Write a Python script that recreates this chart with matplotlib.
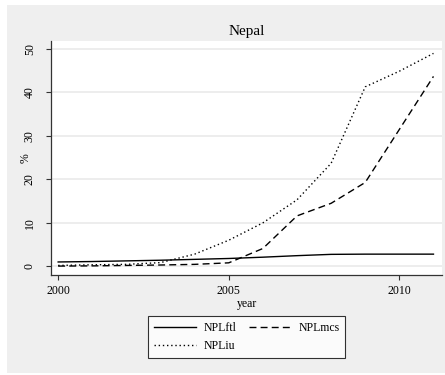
import matplotlib
matplotlib.use("Agg")
import matplotlib.pyplot as plt
from matplotlib.patches import Rectangle

# Values
years = [2000, 2001, 2002, 2003, 2004, 2005, 2006, 2007, 2008, 2009, 2010, 2011]
npl_ftl = [1.0, 1.1, 1.25, 1.4, 1.6, 1.8, 2.1, 2.45, 2.75, 2.8, 2.8, 2.8]
npl_mcs = [0.05, 0.1, 0.2, 0.3, 0.45, 0.8, 4.1, 11.6, 14.5, 19.3, 31.5, 43.7]
npl_iu = [0.2, 0.35, 0.45, 0.85, 2.8, 6.0, 10.0, 15.3, 23.7, 41.3, 44.9, 49.0]
y_ticks = [0, 10, 20, 30, 40, 50]
x_ticks = [2000, 2005, 2010]

plt.rcParams['font.family'] = ['Liberation Serif', 'DejaVu Serif']

W, H = 445, 375
fig = plt.figure(figsize=(W / 100, H / 100), dpi=100, facecolor="white")

# Stata-like gray graph region
fig.patches.append(Rectangle((7 / W, 1 - 373 / H), 1 - 7 / W, (373 - 5) / H,
                             transform=fig.transFigure, facecolor="#efefef",
                             edgecolor="none", zorder=-1))

ax = fig.add_axes([51 / W, 1 - 275 / H, (442 - 51) / W, (275 - 41) / H])
ax.set_facecolor("white")

l_ftl, = ax.plot(years, npl_ftl, color="black", lw=1.0, ls="-", label="NPLftl")
l_mcs, = ax.plot(years, npl_mcs, color="black", lw=1.0, ls=(0, (5, 3)), label="NPLmcs")
l_iu, = ax.plot(years, npl_iu, color="black", lw=1.0, ls=(0, (1, 2)), label="NPLiu")

ax.set_xlim(1999.79, 2011.25)
ax.set_ylim(-2.0, 51.85)
ax.set_xticks(x_ticks)
ax.set_yticks(y_ticks)
ax.set_yticklabels([str(v) for v in y_ticks], rotation=90, va="center")
ax.tick_params(axis="both", labelsize=8.5, length=3.4, width=0.8, color="#333333")
ax.tick_params(axis="y", pad=7.5)
ax.tick_params(axis="x", pad=4)

for v in y_ticks:
    ax.axhline(v, color="#eaeaea", lw=1.2, zorder=0)

for s in ["top", "right"]:
    ax.spines[s].set_visible(False)
for s in ["left", "bottom"]:
    ax.spines[s].set_color("#333333")
    ax.spines[s].set_linewidth(0.9)

ax.set_title("Nepal", fontsize=11, pad=4)
ax.set_xlabel("year", fontsize=8.5)
ax.set_ylabel("%", fontsize=8.5)
ax.xaxis.set_label_coords(0.5, -0.098)
ax.yaxis.set_label_coords(-0.049, 0.5)

# column-wise fill: ftl / iu in first column, mcs in second
leg = fig.legend([l_ftl, l_iu, l_mcs], ["NPLftl", "NPLiu", "NPLmcs"],
                 loc="upper left", bbox_to_anchor=(148 / W, 1 - 316 / H),
                 ncol=2, fontsize=8.5,
                 frameon=True, fancybox=False, edgecolor="black", handlelength=3.6,
                 borderpad=0.5, labelspacing=0.5, columnspacing=1.1, handletextpad=0.57,
                 borderaxespad=0)
leg.get_frame().set_linewidth(0.8)

fig.savefig("out.png", dpi=100, facecolor=fig.get_facecolor())
